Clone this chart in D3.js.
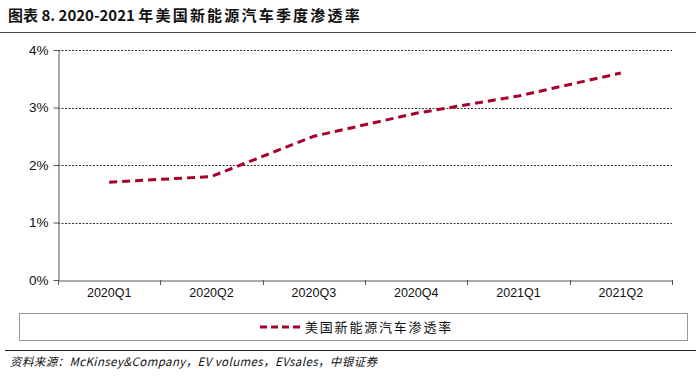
<!DOCTYPE html>
<html><head><meta charset="utf-8">
<script src="https://cdn.jsdelivr.net/npm/d3@7"></script>
<style>body{margin:0;background:#fff}svg{display:block}</style>
</head><body>
<svg id="c" width="696" height="376"></svg>
<script>
const categories = ["2020Q1","2020Q2","2020Q3","2020Q4","2021Q1","2021Q2"];
const penetration = [1.7, 1.8, 2.5, 2.9, 3.2, 3.6];
const yTicks = [0,1,2,3,4];
const titlePrefix = "图表 8. 2020-2021 ";
const titleMain = "年美国新能源汽车季度渗透率";
const legendLabel = "美国新能源汽车渗透率";
const sourceText = "资料来源：McKinsey&Company，EV volumes，EVsales，中银证券";

const svg = d3.select("#c");
const cjk = "'Noto Sans CJK SC', 'Liberation Sans', Arial, sans-serif";
const latin = "'Liberation Sans', Arial, sans-serif";
const red = "#A8002B";

// title
const t = svg.append("text").attr("x",8).attr("y",21)
  .attr("font-family",cjk).attr("font-size",15).attr("font-weight","bold")
  .attr("fill","#111");
t.append("tspan").text(titlePrefix);
t.append("tspan").attr("letter-spacing",2.2).text(titleMain);
svg.append("line").attr("x1",0).attr("x2",696).attr("y1",32.5).attr("y2",32.5)
  .attr("stroke","#444").attr("stroke-width",1);

const m = {l:58, r:672, t:50, b:280};
const x = d3.scaleBand().domain(categories).range([m.l,m.r]);
const y = d3.scaleLinear().domain([0,4]).range([m.b,m.t]);

// gridlines
svg.append("g").selectAll("line").data(yTicks.filter(d=>d>0)).join("line")
  .attr("x1",m.l).attr("x2",m.r)
  .attr("y1",d=>Math.round(y(d))+0.5).attr("y2",d=>Math.round(y(d))+0.5)
  .attr("stroke","#000").attr("stroke-width",0.8).attr("stroke-dasharray","2,1.5");

// y axis
const ya = svg.append("g").attr("transform",`translate(${m.l+0.5},0)`)
  .call(d3.axisLeft(y).tickValues(yTicks).tickFormat(d=>d+"%").tickSize(5).tickSizeOuter(0));
ya.select(".domain").attr("stroke","#555");
ya.selectAll(".tick line").attr("stroke","#555");
ya.selectAll("text").attr("font-family",latin).attr("font-size",13.5).attr("fill","#111").attr("dx",-2);

// x axis
const xa = svg.append("g").attr("transform",`translate(0,${m.b+0.5})`)
  .call(d3.axisBottom(x).tickSize(0).tickSizeOuter(0));
xa.select(".domain").attr("stroke","#555");
xa.selectAll("text").attr("font-family",latin).attr("font-size",12.5).attr("fill","#111").attr("dy","1.1em");
// category separator ticks
svg.append("g").selectAll("line")
  .data(categories.map(c=>x(c)).concat([m.r]))
  .join("line")
  .attr("x1",d=>Math.round(d)+0.5).attr("x2",d=>Math.round(d)+0.5)
  .attr("y1",m.b).attr("y2",m.b+5).attr("stroke","#555");

// line
const line = d3.line().x((d,i)=>x(categories[i])+x.bandwidth()/2).y(d=>y(d));
svg.append("path").datum(penetration).attr("d",line)
  .attr("fill","none").attr("stroke",red).attr("stroke-width",3)
  .attr("stroke-dasharray","8,5");

// legend box
svg.append("rect").attr("x",19.5).attr("y",313.5).attr("width",668).attr("height",27)
  .attr("fill","#fff").attr("stroke","#999").attr("stroke-width",1);
svg.append("line").attr("x1",260).attr("x2",300).attr("y1",327).attr("y2",327)
  .attr("stroke",red).attr("stroke-width",3).attr("stroke-dasharray","7,4");
svg.append("text").attr("x",305).attr("y",332)
  .attr("font-family",cjk).attr("font-size",13).attr("letter-spacing",1.8)
  .attr("fill","#111").text(legendLabel);

// bottom line + source
svg.append("line").attr("x1",5).attr("x2",696).attr("y1",350.5).attr("y2",350.5)
  .attr("stroke","#222").attr("stroke-width",1);
svg.append("text").attr("x",10).attr("y",366)
  .attr("font-family",cjk).attr("font-size",11.5).attr("font-style","italic")
  .attr("letter-spacing",0.4)
  .attr("fill","#111").text(sourceText);
</script>
</body></html>
